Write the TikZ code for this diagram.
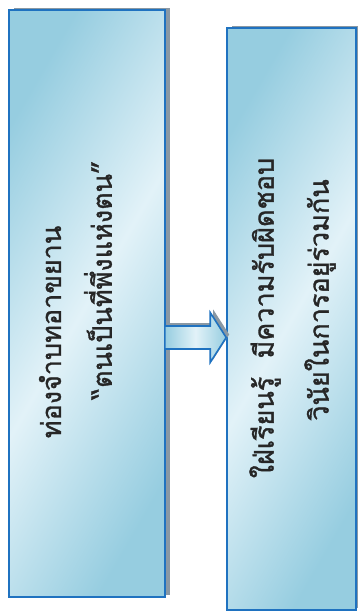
\documentclass[tikz,border=0pt]{standalone}
\usepackage{fontspec}
\newfontfamily\thaifont[Script=Thai, FakeBold=1.2]{Loma}
\usetikzlibrary{shapes,shadows,calc}
\definecolor{boxdark}{HTML}{96CDE0}
\definecolor{boxlight}{HTML}{E2F2F8}
\definecolor{boxline}{HTML}{1F72C0}
\definecolor{shadowgray}{HTML}{8A98A3}
\pgfdeclarehorizontalshading{panelshade}{100bp}{color(0bp)=(boxdark); color(25bp)=(boxdark); color(50bp)=(boxlight); color(75bp)=(boxdark); color(100bp)=(boxdark)}
\tikzset{
	panel/.style = {draw = boxline,
					line width = 1.6pt,
					shading = panelshade,
					shading angle = -30,
					drop shadow = {shadow xshift = 5pt, shadow yshift = 2pt,
								   fill = shadowgray, opacity = 1}},
	caption/.style = {rotate = 90,
					  font = \thaifont\fontsize{27}{32}\selectfont,
					  text = black!85},
	flowarrow/.style = {draw = boxline,
						line width = 1.6pt,
						shading = panelshade,
						shading angle = 0,
						drop shadow = {shadow xshift = 3pt, shadow yshift = 3pt,
									   fill = shadowgray, opacity = 1}}
}

\begin{document}
\begin{tikzpicture}
	\useasboundingbox (0,0) rectangle (357pt,-613pt);
	
	\draw (87pt,-303.5pt) node[panel,
					 minimum width = 156pt,
					 minimum height = 587pt](lbox) {};
	\draw (291.5pt,-319pt) node[panel,
					 minimum width = 129pt,
					 minimum height = 582pt](rbox) {};
	
	\draw (50pt,-332pt) node[caption](lline1) {ท่องจำบทอาขยาน};
	\draw (98pt,-280pt) node[caption](lline2) {“ตนเป็นที่พึ่งแห่งตน”};
	\draw (265pt,-318pt) node[caption](rline1) {ใฝ่เรียนรู้\ \ มีความรับผิดชอบ};
	\draw (320pt,-300pt) node[caption](rline2) {วินัยในการอยู่ร่วมกัน};
	
	\coordinate (s) at ($(lbox.east)+(-1pt,-34pt)$);
	\coordinate (t) at (rbox.west |- s);
	\draw[flowarrow] ($(s)+(0,11.5pt)$) -- ($(t)+(-16pt,11.5pt)$) -- ($(t)+(-16pt,25pt)$)
		-- (t) -- ($(t)+(-16pt,-25pt)$) -- ($(t)+(-16pt,-11.5pt)$) -- ($(s)+(0,-11.5pt)$) -- cycle;
	
\end{tikzpicture}
\end{document}
